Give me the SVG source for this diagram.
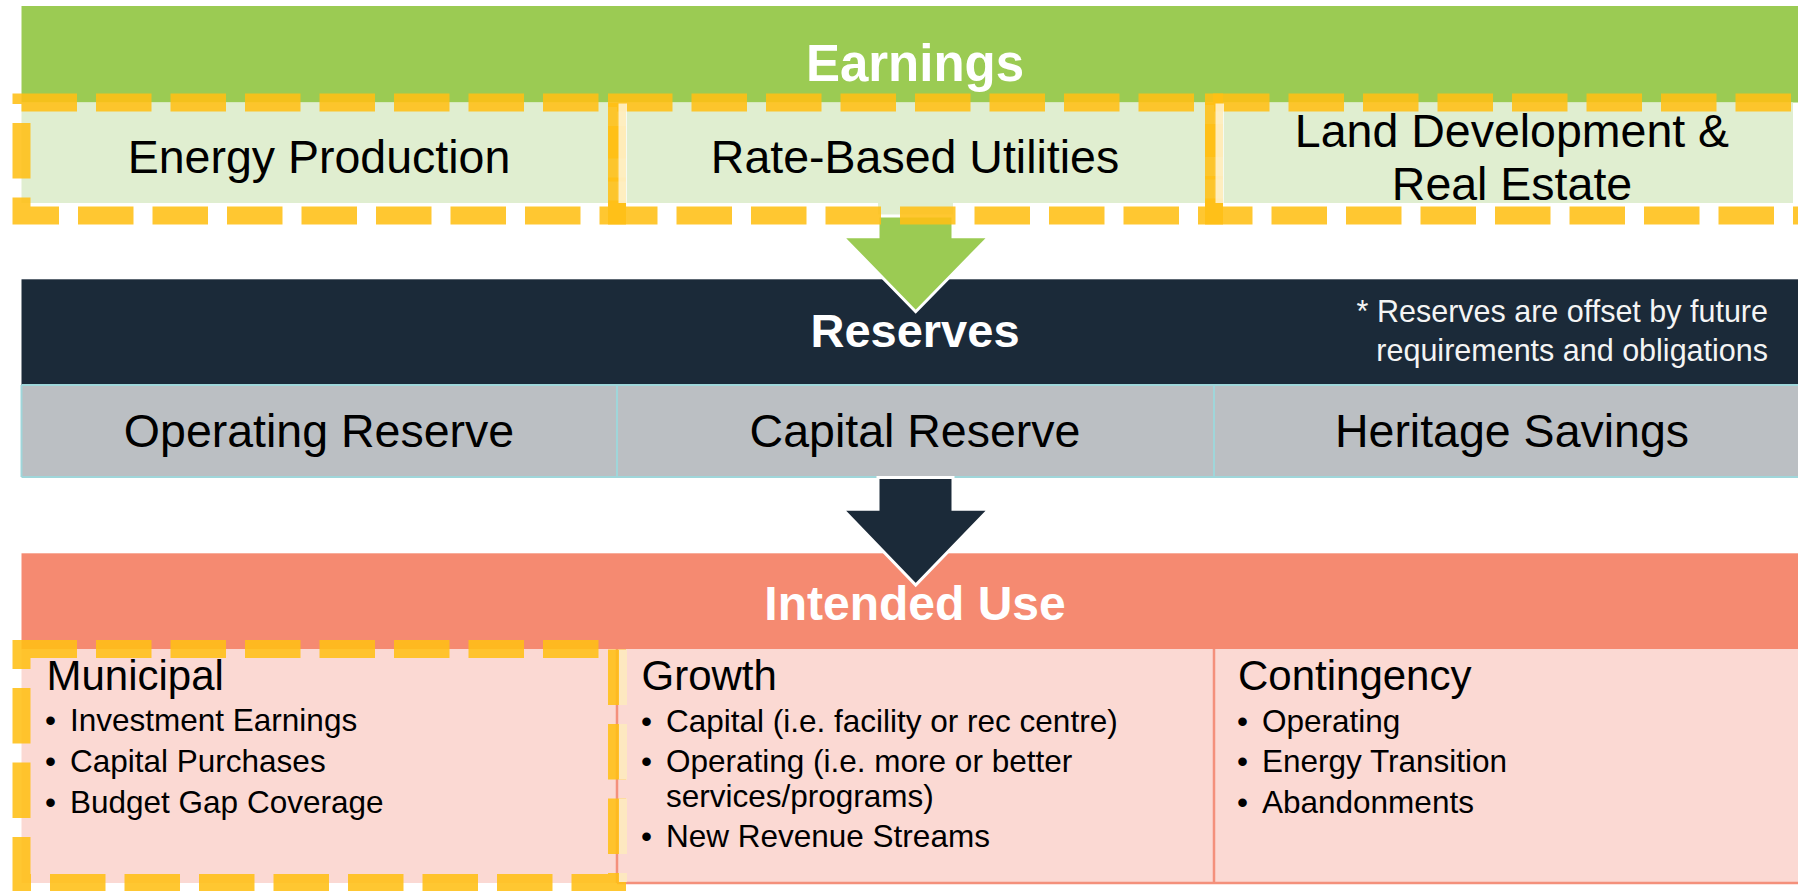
<svg xmlns="http://www.w3.org/2000/svg" width="1798" height="891" viewBox="0 0 1798 891">
  <style>
    text { font-family: "Liberation Sans", Arial, sans-serif; }
    .title { font-weight: bold; fill: #ffffff; text-anchor: middle; }
    .cell { font-size: 46.5px; fill: #000000; text-anchor: middle; }
    .note { font-size: 30.5px; fill: #f4f4f4; text-anchor: end; }
    .head { font-size: 42px; fill: #000000; }
    .item { font-size: 31.5px; fill: #000000; }
    .hl { fill: none; stroke: #ffbf14; stroke-opacity: 0.88; stroke-width: 18; stroke-dasharray: 55.5 19; }
    .hl-pale { fill: none; stroke: #fde8c0; stroke-width: 8; stroke-dasharray: 55.5 19; }
    .tealline { stroke: #9fd6da; stroke-width: 2; fill: none; }
    .salmonline { stroke: #f4907b; stroke-width: 2.5; fill: none; }
    .arrow { stroke: #ffffff; stroke-width: 3; stroke-linejoin: miter; }
  </style>

  <rect width="1798" height="891" fill="#ffffff"/>

  <!-- Earnings table -->
  <g id="earnings">
    <rect x="21.5" y="6" width="1776.5" height="96.5" fill="#9bcb53"/>
    <text class="title" x="915" y="81" font-size="51">Earnings</text>
  </g>
  <g id="energy-production">
    <rect x="21.5" y="102.5" width="595.5" height="100.5" fill="#e0eed0"/>
    <text class="cell" x="319" y="173">Energy Production</text>
  </g>
  <g id="rate-based-utilities">
    <rect x="618" y="102.5" width="596" height="100.5" fill="#e0eed0"/>
    <text class="cell" x="915" y="173">Rate-Based Utilities</text>
  </g>
  <g id="land-development">
    <rect x="1215" y="102.5" width="578" height="100.5" fill="#e0eed0"/>
    <text class="cell" x="1512" y="147">Land Development &amp;</text>
    <text class="cell" x="1512" y="200">Real Estate</text>
  </g>

  <!-- Reserves table -->
  <g id="reserves">
    <rect x="21.5" y="279.3" width="1776.5" height="106" fill="#1b2a39"/>
    <text class="title" x="915" y="347" font-size="47">Reserves</text>
    <text class="note" x="1768" y="322">* Reserves are offset by future</text>
    <text class="note" x="1768" y="361">requirements and obligations</text>
  </g>
  <g id="operating-reserve">
    <rect x="21.5" y="385" width="595.5" height="92" fill="#bbbfc3"/>
    <text class="cell" x="319" y="447">Operating Reserve</text>
  </g>
  <g id="capital-reserve">
    <rect x="617" y="385" width="597" height="92" fill="#bbbfc3"/>
    <text class="cell" x="915" y="447">Capital Reserve</text>
  </g>
  <g id="heritage-savings">
    <rect x="1214" y="385" width="584" height="92" fill="#bbbfc3"/>
    <text class="cell" x="1512" y="447">Heritage Savings</text>
  </g>
  <g id="reserves-grid">
    <path class="tealline" d="M21.5,385 H1798 M21.5,477 H1798 M21.5,385 V477 M617,385 V477 M1214,385 V477"/>
  </g>

  <!-- Intended use table -->
  <g id="intended-use">
    <rect x="21.5" y="553.3" width="1776.5" height="96" fill="#f58a71"/>
    <text class="title" x="915" y="620" font-size="48">Intended Use</text>
  </g>
  <g id="municipal">
    <rect x="21.5" y="649" width="595.5" height="234" fill="#fbd9d3"/>
    <text class="head" x="46.5" y="690">Municipal</text>
    <text class="item" x="45" y="731">•</text>
    <text class="item" x="70" y="731">Investment Earnings</text>
    <text class="item" x="45" y="772">•</text>
    <text class="item" x="70" y="772">Capital Purchases</text>
    <text class="item" x="45" y="813">•</text>
    <text class="item" x="70" y="813">Budget Gap Coverage</text>
  </g>
  <g id="growth">
    <rect x="617" y="649" width="597" height="234" fill="#fbd9d3"/>
    <text class="head" x="641.5" y="690">Growth</text>
    <text class="item" x="641" y="732">•</text>
    <text class="item" x="666" y="732">Capital (i.e. facility or rec centre)</text>
    <text class="item" x="641" y="772">•</text>
    <text class="item" x="666" y="772">Operating (i.e. more or better</text>
    <text class="item" x="666" y="807">services/programs)</text>
    <text class="item" x="641" y="847">•</text>
    <text class="item" x="666" y="847">New Revenue Streams</text>
  </g>
  <g id="contingency">
    <rect x="1214" y="649" width="584" height="234" fill="#fbd9d3"/>
    <text class="head" x="1238" y="690">Contingency</text>
    <text class="item" x="1237" y="732">•</text>
    <text class="item" x="1262" y="732">Operating</text>
    <text class="item" x="1237" y="772">•</text>
    <text class="item" x="1262" y="772">Energy Transition</text>
    <text class="item" x="1237" y="813">•</text>
    <text class="item" x="1262" y="813">Abandonments</text>
  </g>
  <g id="intended-use-grid">
    <path class="salmonline" d="M617,649 V883 M1214,649 V883 M617,883 H1798"/>
  </g>

  <!-- Flow arrows between the three tiers -->
  <g id="connectors">
    <rect x="878" y="202" width="75" height="14.5" fill="#e0eed0"/>
    <path class="arrow" fill="#9bcb53" d="M878,216 H953 V236.7 H989 L915.7,311.7 L842.7,236.7 H878 Z"/>
    <path class="arrow" fill="#1b2a39" d="M878,477.5 H953 V509.3 H989 L915.7,585 L842.7,509.3 H878 Z"/>
  </g>

  <!-- Dashed highlight frames -->
  <g id="highlights">
    <rect class="hl" x="21.5" y="102.5" width="595.5" height="113"/>
    <rect class="hl" x="617" y="102.5" width="597" height="113"/>
    <rect class="hl" x="1214" y="102.5" width="596" height="113"/>
    <rect class="hl" x="21.5" y="649" width="595.5" height="234"/>
    <!-- frame edges lightened where they run under the neighbouring cell -->
    <rect x="618.5" y="103.5" width="8.5" height="99.5" fill="#ffffff" fill-opacity="0.7"/>
    <rect x="1215.5" y="103.5" width="8.5" height="99.5" fill="#ffffff" fill-opacity="0.7"/>
    <line class="hl-pale" x1="623" y1="650" x2="623" y2="882" stroke-dashoffset="75"/>
  </g>
</svg>
